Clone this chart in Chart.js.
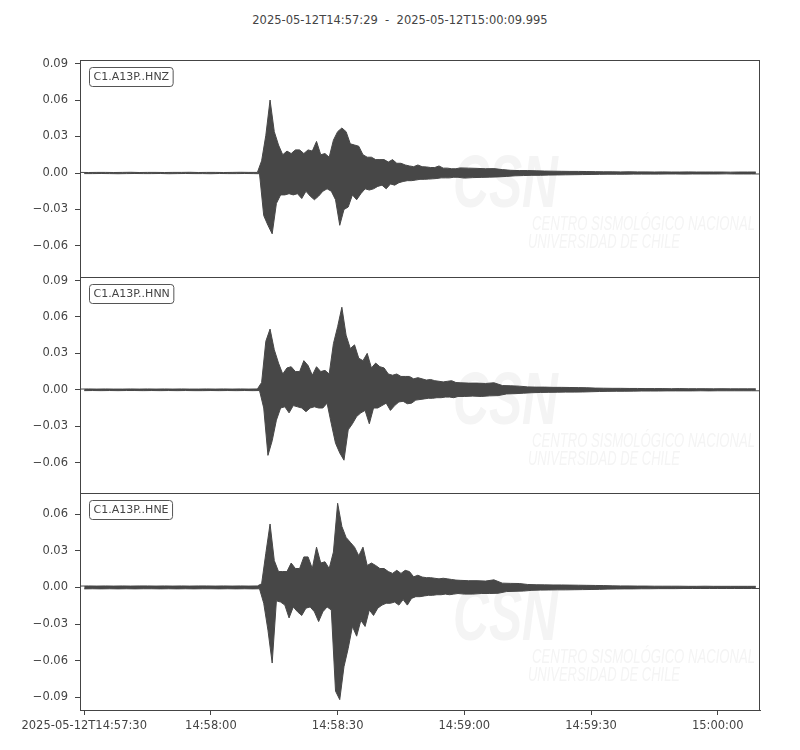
<!DOCTYPE html>
<html>
<head>
<meta charset="utf-8">
<script src="https://cdn.jsdelivr.net/npm/chart.js@4.4.1/dist/chart.umd.min.js"></script>
<style>
    body { margin: 0; background: #fff; }
    #wrap { position: relative; width: 800px; height: 750px; }
    #title { position: absolute; left: 0; top: 13px; width: 800px; text-align: center;
             font: 11.5px "DejaVu Sans"; line-height: 14px; color: #444; white-space: pre; }
    canvas { position: absolute; left: 0; }
</style>
</head>
<body>
<div id="wrap">
    <div id="title">2025-05-12T14:57:29  -  2025-05-12T15:00:09.995</div>
    <canvas id="panel0" width="800" height="237" style="top:50px"></canvas>
    <canvas id="panel1" width="800" height="236" style="top:267px"></canvas>
    <canvas id="panel2" width="800" height="267" style="top:483px"></canvas>
</div>
<script>
// seconds after 14:57:29 where each envelope bin starts (last value = end of last bin)
const binEdges = [
    0, 2, 4, 6, 8, 10, 12, 14, 16, 18, 20, 22, 24, 26, 28, 30, 32, 34, 36, 38, 40, 42,
    43, 44, 45, 46, 47, 48, 49, 50, 51, 52, 53, 54, 55, 56, 57, 58, 59, 60, 61, 62, 63, 64, 65,
    66, 67, 68, 69, 70, 71, 72, 73, 74, 75, 76, 77, 78, 79, 80, 81, 82, 83, 84, 85, 86, 87, 88, 89,
    90, 92, 94, 96, 98, 100, 102, 104, 106, 108, 110, 112, 114, 116, 118, 120, 122, 124, 126, 128,
    130, 132, 134, 136, 138, 140, 142, 144, 146, 148, 150, 152, 154, 156, 158, 160,
    162
];

const stations = ['C1.A13P..HNZ', 'C1.A13P..HNN', 'C1.A13P..HNE'];

// max / min of each bin
const hnzHi = [
    0.0005, 0.0004, 0.0005, 0.0005, 0.0004, 0.0005, 0.0006, 0.0004, 0.0005, 0.0005, 0.0004,
    0.0005, 0.0005, 0.0006, 0.0004, 0.0005, 0.0005, 0.0004, 0.0005, 0.0006, 0.0005, 0.0005,
    0.010, 0.031, 0.060, 0.034, 0.023, 0.015, 0.018, 0.016, 0.019, 0.019, 0.016, 0.019, 0.018,
    0.026, 0.015, 0.016, 0.013, 0.027, 0.034, 0.037, 0.034, 0.024, 0.023, 0.022, 0.015, 0.013,
    0.013, 0.011, 0.011, 0.011, 0.009, 0.011, 0.008, 0.008, 0.0066, 0.0058, 0.0052, 0.0066,
    0.0052, 0.005, 0.0045, 0.0045, 0.0058, 0.004, 0.004, 0.0035, 0.0035,
    0.0042, 0.004, 0.0038, 0.0035, 0.0036, 0.0028, 0.0022, 0.002, 0.002, 0.0018, 0.0016, 0.0015,
    0.0014, 0.0013, 0.0013, 0.0012, 0.0011, 0.001, 0.001, 0.0009, 0.001, 0.0009, 0.0009, 0.0008,
    0.0009, 0.0008, 0.0008, 0.0009, 0.0008, 0.0008, 0.0008, 0.0008, 0.0007, 0.0008, 0.0008, 0.0008
];
const hnzLo = [
    -0.0005, -0.0005, -0.0004, -0.0005, -0.0006, -0.0005, -0.0004, -0.0005, -0.0005, -0.0004, -0.0006,
    -0.0005, -0.0004, -0.0005, -0.0005, -0.0006, -0.0004, -0.0005, -0.0005, -0.0004, -0.0005, -0.0006,
    -0.035, -0.043, -0.050, -0.025, -0.018, -0.018, -0.017, -0.018, -0.017, -0.021, -0.015, -0.019,
    -0.022, -0.019, -0.015, -0.013, -0.015, -0.022, -0.043, -0.030, -0.028, -0.018, -0.022, -0.017,
    -0.013, -0.014, -0.013, -0.011, -0.010, -0.013, -0.009, -0.010, -0.008, -0.007, -0.0063,
    -0.0063, -0.0058, -0.0052, -0.0052, -0.005, -0.0048, -0.0045, -0.004, -0.004, -0.004, -0.0035, -0.0035,
    -0.0042, -0.0038, -0.0036, -0.0034, -0.0032, -0.0028, -0.0023, -0.0021, -0.0019, -0.0019, -0.0017,
    -0.0016, -0.0015, -0.0014, -0.0013, -0.0012, -0.0011, -0.001, -0.001, -0.001, -0.0009, -0.0009,
    -0.0009, -0.0009, -0.0008, -0.0008, -0.0009, -0.0008, -0.0008, -0.0008, -0.0008, -0.0007,
    -0.0008, -0.0008, -0.0008, -0.0008
];

const hnnHi = [
    0.0006, 0.0007, 0.0006, 0.0007, 0.0006, 0.0006, 0.0007, 0.0006, 0.0007, 0.0006, 0.0007,
    0.0006, 0.0007, 0.0006, 0.0006, 0.0007, 0.0006, 0.0007, 0.0006, 0.0007, 0.0006, 0.0007,
    0.006, 0.040, 0.050, 0.033, 0.022, 0.013, 0.018, 0.019, 0.015, 0.015, 0.024, 0.020, 0.012,
    0.019, 0.015, 0.016, 0.013, 0.038, 0.052, 0.068, 0.045, 0.034, 0.037, 0.026, 0.024, 0.030,
    0.018, 0.022, 0.019, 0.018, 0.013, 0.012, 0.013, 0.011, 0.011, 0.011, 0.009, 0.010,
    0.009, 0.008, 0.0085, 0.0075, 0.007, 0.0065, 0.007, 0.0075, 0.006,
    0.0058, 0.0055, 0.0055, 0.0052, 0.0058, 0.0035, 0.0033, 0.003, 0.0024, 0.0022, 0.0022, 0.002,
    0.002, 0.0019, 0.0018, 0.0017, 0.0014, 0.0013, 0.0012, 0.0012, 0.0011, 0.0011, 0.001, 0.001,
    0.001, 0.0009, 0.001, 0.0009, 0.0009, 0.0009, 0.0008, 0.0009, 0.0008, 0.0008, 0.0008, 0.0008
];
const hnnLo = [
    -0.0007, -0.0006, -0.0007, -0.0006, -0.0007, -0.0006, -0.0006, -0.0007, -0.0006, -0.0007, -0.0006,
    -0.0007, -0.0006, -0.0007, -0.0007, -0.0006, -0.0007, -0.0006, -0.0007, -0.0006, -0.0007, -0.0006,
    -0.015, -0.054, -0.042, -0.025, -0.015, -0.014, -0.019, -0.013, -0.014, -0.015, -0.018, -0.015,
    -0.014, -0.015, -0.015, -0.011, -0.028, -0.044, -0.052, -0.058, -0.033, -0.028, -0.022, -0.019,
    -0.017, -0.028, -0.015, -0.015, -0.013, -0.011, -0.017, -0.013, -0.010, -0.0095, -0.0115,
    -0.011, -0.0085, -0.008, -0.0075, -0.007, -0.007, -0.0065, -0.0065, -0.006, -0.006, -0.0065, -0.0055,
    -0.0055, -0.0052, -0.0055, -0.005, -0.0048, -0.0034, -0.0032, -0.0028, -0.0024, -0.0022, -0.0021,
    -0.002, -0.0019, -0.0019, -0.0018, -0.0016, -0.0014, -0.0013, -0.0012, -0.0012, -0.0011, -0.001,
    -0.001, -0.001, -0.0009, -0.0009, -0.0009, -0.0009, -0.0008, -0.0009, -0.0008, -0.0008,
    -0.0008, -0.0008, -0.0008, -0.0008
];

const hneHi = [
    0.0011, 0.0012, 0.0011, 0.0012, 0.0011, 0.0012, 0.0011, 0.0012, 0.0012, 0.0011, 0.0012,
    0.0011, 0.0012, 0.0011, 0.0012, 0.0012, 0.0011, 0.0012, 0.0011, 0.0012, 0.0011, 0.0012,
    0.003, 0.028, 0.052, 0.022, 0.013, 0.013, 0.013, 0.020, 0.0155, 0.0155, 0.025, 0.025, 0.0155,
    0.033, 0.020, 0.021, 0.0155, 0.029, 0.069, 0.050, 0.041, 0.037, 0.033, 0.026, 0.033, 0.018,
    0.020, 0.018, 0.0155, 0.0155, 0.013, 0.0115, 0.014, 0.0115, 0.014, 0.013, 0.0087, 0.010,
    0.0085, 0.008, 0.008, 0.0075, 0.007, 0.0075, 0.007, 0.0065, 0.006,
    0.0058, 0.0055, 0.0055, 0.0052, 0.0062, 0.0035, 0.0033, 0.0032, 0.0024, 0.0022, 0.0021, 0.002,
    0.002, 0.0019, 0.0018, 0.0017, 0.0016, 0.0015, 0.0013, 0.0012, 0.0012, 0.0011, 0.0011, 0.001,
    0.001, 0.001, 0.001, 0.0009, 0.0009, 0.001, 0.0009, 0.0009, 0.0009, 0.0009, 0.0009, 0.0009
];
const hneLo = [
    -0.0012, -0.0011, -0.0012, -0.0011, -0.0012, -0.0011, -0.0012, -0.0011, -0.0011, -0.0012, -0.0011,
    -0.0012, -0.0011, -0.0012, -0.0011, -0.0011, -0.0012, -0.0011, -0.0012, -0.0011, -0.0012, -0.0011,
    -0.013, -0.035, -0.062, -0.011, -0.012, -0.0145, -0.025, -0.016, -0.020, -0.023, -0.017, -0.016,
    -0.020, -0.028, -0.020, -0.016, -0.0185, -0.085, -0.092, -0.065, -0.050, -0.032, -0.040, -0.027,
    -0.032, -0.0185, -0.023, -0.017, -0.0145, -0.013, -0.013, -0.012, -0.0145, -0.010, -0.0145,
    -0.009, -0.0076, -0.0076, -0.007, -0.0065, -0.0065, -0.006, -0.006, -0.0055, -0.006, -0.0055, -0.005,
    -0.0055, -0.0055, -0.005, -0.005, -0.0048, -0.0034, -0.0032, -0.003, -0.0024, -0.0022, -0.0021,
    -0.002, -0.002, -0.0019, -0.0018, -0.0017, -0.0016, -0.0014, -0.0013, -0.0012, -0.0012, -0.0011,
    -0.0011, -0.001, -0.001, -0.001, -0.0009, -0.0009, -0.0009, -0.0009, -0.0009, -0.0009,
    -0.0009, -0.0009, -0.0009, -0.0009
];

const highs = [hnzHi, hnnHi, hneHi];
const lows = [hnzLo, hnnLo, hneLo];

// y limits and ticks of the three panels
const yMins = [-0.0855, -0.0850, -0.1005];
const yMaxs = [0.0929, 0.0929, 0.0774];
const yTicks = [
    [-0.06, -0.03, 0, 0.03, 0.06, 0.09],
    [-0.06, -0.03, 0, 0.03, 0.06, 0.09],
    [-0.09, -0.06, -0.03, 0, 0.03, 0.06]
];

// x ticks (seconds after 14:57:29)
const tickSeconds = [1, 31, 61, 91, 121, 151];
const tickLabels = ['2025-05-12T14:57:30', '14:58:00', '14:58:30', '14:59:00', '14:59:30', '15:00:00'];

const watermarkLines = ['CSN', 'CENTRO SISMOLÓGICO NACIONAL', 'UNIVERSIDAD DE CHILE'];

const traceColor = '#474747';

Chart.defaults.font.family = 'DejaVu Sans';
Chart.defaults.font.size = 11.5;
Chart.defaults.color = '#444';

// upper edge at the start of each bin, lower edge half a bin later
function upperEdge(hi) {
    return hi.map((v, i) => ({x: binEdges[i], y: v}));
}
function lowerEdge(lo) {
    return lo.map((v, i) => ({x: (binEdges[i] + binEdges[i + 1]) / 2, y: v}));
}

function fmt(v) {
    return (v < 0 ? '\u2212' : '') + Math.abs(v).toFixed(2);
}

// faint logo behind the trace
const watermark = {
    id: 'watermark',
    beforeDatasetsDraw(chart) {
        const a = chart.chartArea, ctx = chart.ctx;
        ctx.save();
        ctx.fillStyle = '#f4f4f4';
        let items = [
            {text: watermarkLines[0], font: 'bold italic 74px "Liberation Sans"', x: 373, y: 147, w: 105},
            {text: watermarkLines[1], font: 'italic 20px "Liberation Sans"', x: 452, y: 170, w: 223},
            {text: watermarkLines[2], font: 'italic 20px "Liberation Sans"', x: 448, y: 188, w: 152}
        ];
        items.forEach(it => {
            ctx.save();
            ctx.font = it.font;
            let m = ctx.measureText(it.text).width;
            ctx.translate(a.left + it.x, a.top + it.y);
            ctx.scale(it.w / m, 1);
            ctx.fillText(it.text, 0, 0);
            ctx.restore();
        });
        ctx.restore();
    }
};

// box round the panel plus the station label
const frame = {
    id: 'frame',
    afterDraw(chart, args, opts) {
        const a = chart.chartArea, ctx = chart.ctx;
        ctx.save();
        ctx.strokeStyle = '#444';
        ctx.lineWidth = 1;
        ctx.strokeRect(Math.round(a.left) + 0.5, Math.round(a.top) + 0.5,
            Math.round(a.width) - 1, Math.round(a.height));

        ctx.font = '11px "DejaVu Sans"';
        let w = ctx.measureText(opts.label).width;
        let bx = a.left + 9.5, by = a.top + 7.5, bw = w + 8, bh = 19;
        ctx.beginPath();
        ctx.roundRect(bx, by, bw, bh, 3);
        ctx.fillStyle = '#fff';
        ctx.fill();
        ctx.strokeStyle = '#555';
        ctx.stroke();
        ctx.fillStyle = '#444';
        ctx.textBaseline = 'middle';
        ctx.fillText(opts.label, bx + 4, by + bh / 2 + 0.5);
        ctx.restore();
    }
};

stations.forEach((name, i) => {
    const last = i === stations.length - 1;
    new Chart(document.getElementById('panel' + i), {
        type: 'line',
        data: {
            datasets: [
                {
                    data: upperEdge(highs[i]),
                    borderColor: traceColor,
                    borderWidth: 1,
                    pointRadius: 0,
                    tension: 0,
                    fill: false
                },
                {
                    data: lowerEdge(lows[i]),
                    borderColor: traceColor,
                    backgroundColor: traceColor,
                    borderWidth: 1,
                    pointRadius: 0,
                    tension: 0,
                    fill: {target: 0}
                }
            ]
        },
        plugins: [watermark, frame],
        options: {
            responsive: false,
            maintainAspectRatio: false,
            animation: false,
            parsing: false,
            layout: {padding: {left: 0, right: 40, top: 10, bottom: last ? 0 : 10}},
            plugins: {
                legend: {display: false},
                tooltip: {enabled: false},
                filler: {propagate: false},
                frame: {label: name}
            },
            scales: {
                x: {
                    type: 'linear',
                    min: 0,
                    max: 161,
                    display: last,
                    afterBuildTicks: s => { s.ticks = tickSeconds.map(v => ({value: v})); },
                    afterFit: s => {
                        if (last) s.height = 40;
                        s.paddingLeft = 0;
                        s.paddingRight = 0;
                    },
                    ticks: {
                        autoSkip: false,
                        maxRotation: 0,
                        padding: 4,
                        callback: (v, idx) => tickLabels[idx]
                    },
                    grid: {drawOnChartArea: false, color: '#444', tickLength: 5},
                    border: {color: '#444'}
                },
                y: {
                    min: yMins[i],
                    max: yMaxs[i],
                    afterBuildTicks: s => { s.ticks = yTicks[i].map(v => ({value: v})); },
                    afterFit: s => {
                        s.width = 80;
                        s.paddingTop = 0;
                        s.paddingBottom = 0;
                    },
                    ticks: {padding: 7, callback: v => fmt(v)},
                    grid: {drawOnChartArea: false, color: '#444', tickLength: 5},
                    border: {color: '#444'}
                }
            }
        }
    });
});
</script>
</body>
</html>
